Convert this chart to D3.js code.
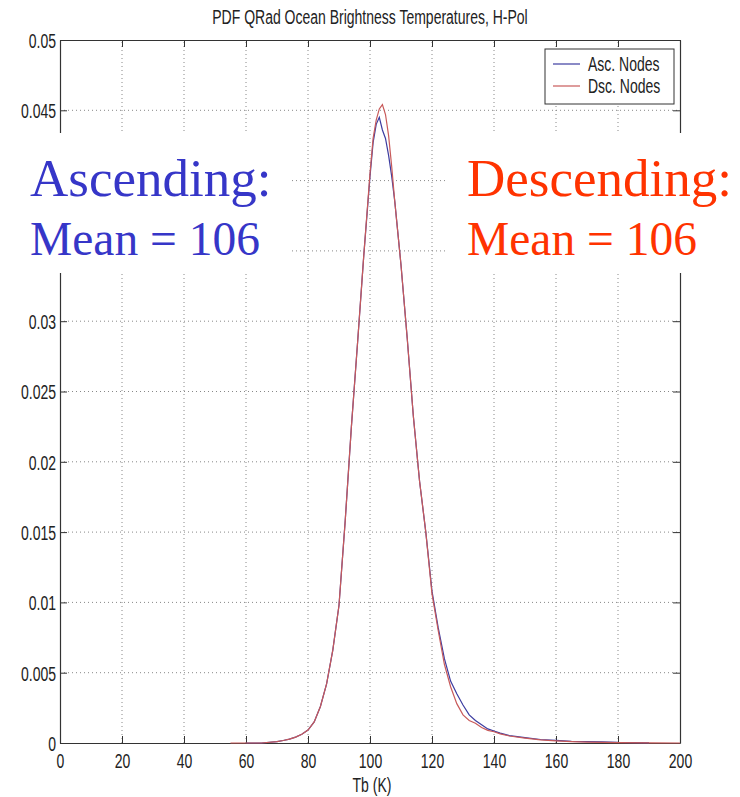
<!DOCTYPE html>
<html><head><meta charset="utf-8">
<script src="https://cdn.jsdelivr.net/npm/d3@7"></script>
<style>html,body{margin:0;padding:0;background:#fff;}svg{display:block;}</style>
</head><body>
<svg id="chart" width="740" height="797"></svg>
<script>
const titleText = "PDF QRad Ocean Brightness Temperatures, H-Pol";
const xLabel = "Tb (K)";
const xTicks = [0, 20, 40, 60, 80, 100, 120, 140, 160, 180, 200];
const yTicks = [0, 0.005, 0.01, 0.015, 0.02, 0.025, 0.03, 0.035, 0.04, 0.045, 0.05];
// 0.035 and 0.04 labels are hidden behind the "Ascending" note in the reference
const yTickLabels = ["0", "0.005", "0.01", "0.015", "0.02", "0.025", "0.03", "", "", "0.045", "0.05"];
const seriesNames = ["Asc. Nodes", "Dsc. Nodes"];
const tb  = [55, 60, 65, 70, 72, 74, 76, 78, 80, 82, 84, 86, 88, 90, 92, 94, 96, 98, 100, 101, 102, 103, 104, 105, 106, 107, 108, 110, 112, 114, 116, 118, 120, 122, 124, 126, 128, 130, 132, 134, 136, 138, 140, 142, 145, 150, 155, 160, 165, 170, 175, 180, 190, 200];
const asc = [null, 0, 0, 0.0001, 0.00018, 0.00028, 0.00042, 0.00062, 0.00092, 0.0015, 0.0026, 0.0042, 0.0066, 0.0098, 0.0158, 0.0225, 0.0285, 0.0347, 0.0403, 0.0427, 0.0440, 0.0445, 0.0436, 0.0430, 0.0418, 0.0403, 0.0385, 0.0340, 0.0288, 0.0232, 0.0186, 0.0150, 0.0108, 0.0082, 0.0060, 0.0044, 0.0035, 0.0027, 0.0020, 0.0016, 0.0013, 0.0010, 0.00085, 0.0007, 0.00052, 0.00038, 0.00025, 0.00018, 0.00012, 0.0001, 0.00008, 0.00004, 0.00001, null];
const dsc = [0, 0, 0, 0.0001, 0.00018, 0.00028, 0.00042, 0.00062, 0.00092, 0.0015, 0.0026, 0.0042, 0.0066, 0.0098, 0.0158, 0.0225, 0.0285, 0.0347, 0.0405, 0.0430, 0.0443, 0.0451, 0.0454, 0.0447, 0.0432, 0.0410, 0.0385, 0.0340, 0.0288, 0.0232, 0.0186, 0.0150, 0.0106, 0.0080, 0.0056, 0.0040, 0.0028, 0.0020, 0.0016, 0.0014, 0.0011, 0.0009, 0.0008, 0.00065, 0.0005, 0.00035, 0.00022, 0.00015, 0.0001, 0.00006, 0.00004, 0.00002, 0.00001, 0];
const noteLines = [["Ascending:", "Mean = 106"], ["Descending:", "Mean = 106"]];

const colors = {asc: "#3c3ca0", dsc: "#c85a5a", note1: "#3636c8", note2: "#ff3300", axis: "#333", grid: "#888", text: "#222"};
const W = 740, H = 797;
const m = {left: 60, right: 60, top: 40, bottom: 54};
const svg = d3.select("#chart");
const x = d3.scaleLinear().domain([0, 200]).range([m.left, W - m.right]);
const y = d3.scaleLinear().domain([0, 0.05]).range([H - m.bottom, m.top]);
const font = "'Liberation Sans',Arial,sans-serif";
const FS = 21, SX = 0.667;

// condense a text horizontally around its own x anchor
function condense(sel, s) {
  sel.each(function() {
    const t = d3.select(this);
    const ax = +(t.attr("x") || 0);
    t.attr("transform", `translate(${ax},0) scale(${s},1) translate(${-ax},0)`);
  });
}

svg.append("rect").attr("width", W).attr("height", H).attr("fill", "#fff");

// grid
const g = svg.append("g");
g.selectAll("line.vg").data(xTicks.slice(1, -1)).join("line")
  .attr("x1", d => x(d)).attr("x2", d => x(d)).attr("y1", y(0)).attr("y2", y(0.05))
  .attr("stroke", colors.grid).attr("stroke-width", 1).attr("stroke-dasharray", "1,3");
g.selectAll("line.hg").data(yTicks.slice(1, -1)).join("line")
  .attr("x1", x(0)).attr("x2", x(200)).attr("y1", d => y(d)).attr("y2", d => y(d))
  .attr("stroke", colors.grid).attr("stroke-width", 1).attr("stroke-dasharray", "1,3");

// axes
const xAx = svg.append("g").attr("transform", `translate(0,${y(0)})`)
  .call(d3.axisBottom(x).tickValues(xTicks).tickSizeInner(-7).tickSizeOuter(0).tickPadding(10));
const xAxTop = svg.append("g").attr("transform", `translate(0,${y(0.05)})`)
  .call(d3.axisTop(x).tickValues(xTicks).tickSizeInner(-7).tickSizeOuter(0).tickFormat(""));
const yAx = svg.append("g").attr("transform", `translate(${x(0)},0)`)
  .call(d3.axisLeft(y).tickValues(yTicks).tickFormat((d, i) => yTickLabels[i]).tickSizeInner(-7).tickSizeOuter(0).tickPadding(4));
const yAxR = svg.append("g").attr("transform", `translate(${x(200)},0)`)
  .call(d3.axisRight(y).tickValues(yTicks).tickSizeInner(-7).tickSizeOuter(0).tickFormat(""));
[xAx, xAxTop, yAx, yAxR].forEach(a => {
  a.select(".domain").attr("stroke", colors.axis).attr("stroke-width", 1.2);
  a.selectAll(".tick line").attr("stroke", colors.axis);
  a.selectAll("text").attr("font-family", font).attr("font-size", FS).attr("fill", colors.text);
});
yAx.selectAll("text").attr("dy", "0.35em");
condense(xAx.selectAll("text"), SX);
condense(yAx.selectAll("text"), SX);

// lines
const idx = d3.range(tb.length);
const lineGen = arr => d3.line().defined(i => arr[i] !== null).x(i => x(tb[i])).y(i => y(arr[i]));
svg.append("path").attr("d", lineGen(asc)(idx)).attr("fill", "none").attr("stroke", colors.asc).attr("stroke-width", 1.2);
svg.append("path").attr("d", lineGen(dsc)(idx)).attr("fill", "none").attr("stroke", colors.dsc).attr("stroke-width", 1.2);

// title and xlabel
condense(svg.append("text").attr("x", 370).attr("y", 24).attr("text-anchor", "middle")
  .attr("font-family", font).attr("font-size", FS).attr("fill", colors.text).text(titleText), SX);
condense(svg.append("text").attr("x", 372).attr("y", 792).attr("text-anchor", "middle")
  .attr("font-family", font).attr("font-size", FS).attr("fill", colors.text).text(xLabel), SX);

// legend
const lg = svg.append("g");
lg.append("rect").attr("x", 545).attr("y", 49).attr("width", 129).attr("height", 55)
  .attr("fill", "#fff").attr("stroke", colors.axis).attr("stroke-width", 1);
[colors.asc, colors.dsc].forEach((c, i) => {
  const yy = 64 + i * 22;
  lg.append("line").attr("x1", 553).attr("x2", 580).attr("y1", yy).attr("y2", yy).attr("stroke", c).attr("stroke-width", 1.2);
  condense(lg.append("text").attr("x", 588).attr("y", yy + 7).attr("font-family", font)
    .attr("font-size", 20).attr("fill", colors.text).text(seriesNames[i]), 0.7);
});

// annotation boxes
const notes = [
  {x0: 0, w: 290, tx: 30, color: colors.note1, lines: noteLines[0]},
  {x0: 446, w: 294, tx: 467, color: colors.note2, lines: noteLines[1]}
];
notes.forEach(n => {
  svg.append("rect").attr("x", n.x0).attr("y", 133).attr("width", n.w).attr("height", 140).attr("fill", "#fff");
  svg.append("text").attr("x", n.tx).attr("y", 196).attr("font-family", "'Liberation Serif','Times New Roman',serif")
    .attr("font-size", 53).attr("fill", n.color).text(n.lines[0]);
  svg.append("text").attr("x", n.tx).attr("y", 255).attr("font-family", "'Liberation Serif','Times New Roman',serif")
    .attr("font-size", 47.5).attr("fill", n.color).text(n.lines[1]);
});
</script>
</body></html>
